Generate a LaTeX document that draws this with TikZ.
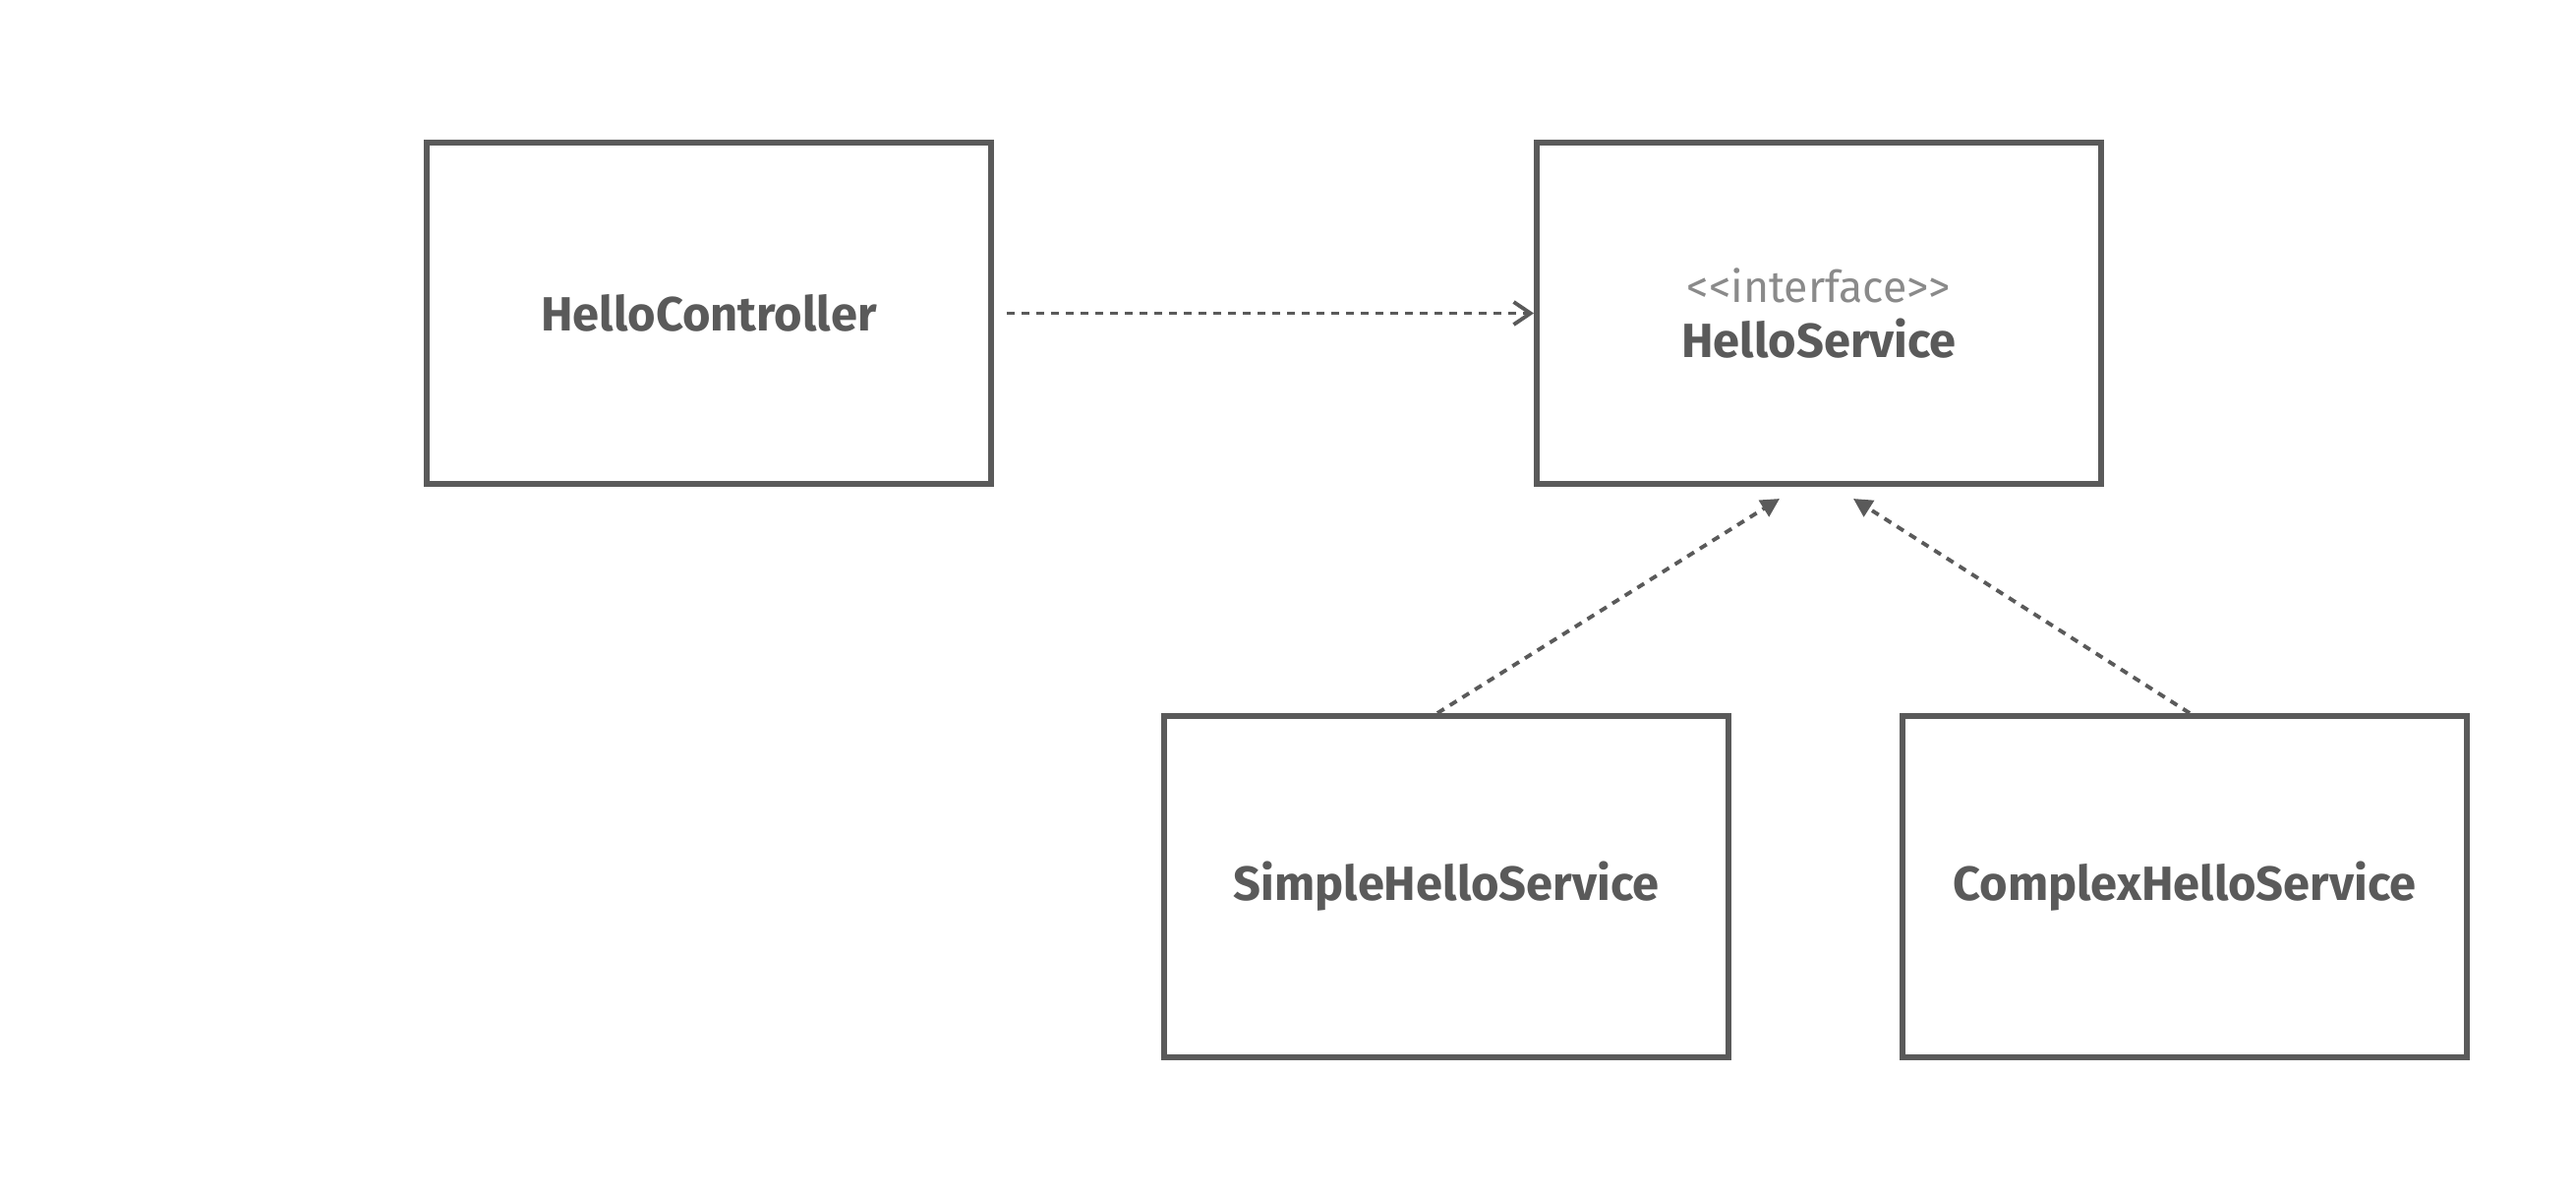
\documentclass[tikz,border=0pt]{standalone}
\usepackage{fontspec}
\setmainfont{Fira Sans}
\usepackage{xcolor}
\usetikzlibrary{arrows.meta}
\definecolor{umlgray}{HTML}{5A5A5A}
\definecolor{stereogray}{HTML}{8A8A8A}
\tikzset{class box/.style={draw=umlgray,line width=1.7pt,
   minimum width=5.74cm,minimum height=3.47cm,
   text=umlgray,align=center,
   font=\fontsize{13.9pt}{17pt}\selectfont\bfseries},
 dash line/.style={draw=umlgray,line width=1.1pt,
   dash pattern=on 0.08cm off 0.07cm},
 depends/.style={dash line,-{Straight Barb[length=0.17cm,width=0.23cm]}},
 realizes/.style={dash line,-{Triangle[length=0.19cm,width=0.19cm]}},
 }

\begin{document}
\begin{tikzpicture}[y=-1cm]
        \useasboundingbox[fill=white] (0,0) rectangle (26.2,12.14);
        % classes
        \node[class box] (ctrl) at (7.21,3.185) {HelloController};
        \node[class box] (svc) at (18.50,3.185)
            {{\fontsize{12.7pt}{15pt}\selectfont\mdseries\color{stereogray}<{}<interface>{}>}\\[-1pt]
             HelloService};
        \node[class box] (simple) at (14.71,9.015) {SimpleHelloService};
        \node[class box] (complex) at (22.22,9.015) {ComplexHelloService};
        % relations
        \draw[depends] ([xshift=0.13cm]ctrl.east) -- (svc.west);
        \draw[realizes] ([xshift=-0.09cm]simple.north)
            -- ([xshift=-0.40cm,yshift=-0.12cm]svc.south);
        \draw[realizes] ([xshift=0.05cm]complex.north)
            -- ([xshift=0.35cm,yshift=-0.12cm]svc.south);
    \end{tikzpicture}
\end{document}
